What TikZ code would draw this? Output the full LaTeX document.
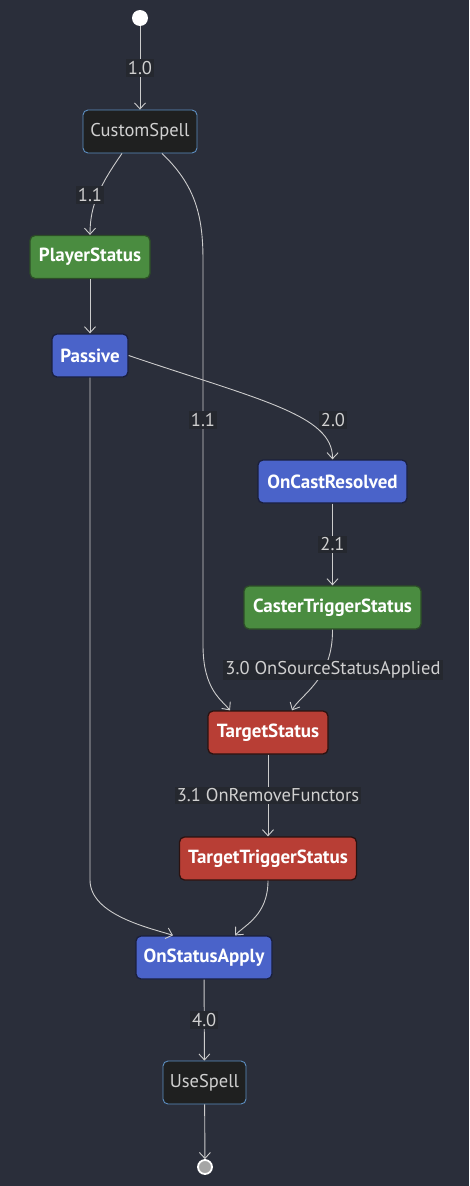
\documentclass[tikz,border=0pt]{standalone}
\usepackage{fontspec}
\setmainfont{PT Sans}
\usetikzlibrary{arrows.meta}
\definecolor{bg}{HTML}{2A2E3A}
\definecolor{edge}{HTML}{CCCCCC}
\definecolor{lblbg}{HTML}{25282F}
\definecolor{lbltxt}{HTML}{D0D0D0}
\definecolor{greenf}{HTML}{4A8C40}
\definecolor{greenb}{HTML}{2C4D27}
\definecolor{bluef}{HTML}{4A63C9}
\definecolor{blueb}{HTML}{1A1F3D}
\definecolor{redf}{HTML}{B83E35}
\definecolor{redb}{HTML}{2A1210}
\definecolor{darkf}{HTML}{1F2020}
\definecolor{darkb}{HTML}{5D8FC2}
\tikzset{
  base/.style={rectangle, rounded corners=5pt, line width=1.3pt, minimum height=43pt, inner sep=0pt, font=\fontsize{18.5}{22}\selectfont},
  plain/.style={base, fill=darkf, draw=darkb, line width=0.9pt, text=lbltxt},
  greenbox/.style={base, fill=greenf, draw=greenb, text=white, font=\fontsize{19}{22}\selectfont\bfseries},
  bluebox/.style={base, fill=bluef, draw=blueb, text=white, font=\fontsize{19}{22}\selectfont\bfseries},
  redbox/.style={base, fill=redf, draw=redb, text=white, font=\fontsize{19}{22}\selectfont\bfseries},
  conn/.style={draw=edge, line width=0.9pt, -{Straight Barb[length=6pt,width=11pt,line width=0.9pt]}},
  lbl/.style={fill=lblbg, text=lbltxt, inner xsep=2pt, inner ysep=2pt, font=\fontsize{18.5}{22}\selectfont},
}
\begin{document}
\begin{tikzpicture}[x=1pt,y=-1pt]
\useasboundingbox (0,0) rectangle (469,1186);
\fill[bg] (0,0) rectangle (469,1186);

\node[circle, fill=white, minimum size=16pt, inner sep=0pt] (start) at (140,18) {};
\node[plain, minimum width=114pt] (cs) at (140,131.5) {CustomSpell};
\node[greenbox, minimum width=120pt] (ps) at (90,257) {PlayerStatus};
\node[bluebox, minimum width=76pt] (pa) at (90,355.5) {Passive};
\node[bluebox, minimum width=149pt] (ocr) at (332.5,481.5) {OnCastResolved};
\node[greenbox, minimum width=177pt] (cts) at (332.5,607.5) {CasterTriggerStatus};
\node[redbox, minimum width=120pt] (ts) at (268,732.5) {TargetStatus};
\node[redbox, minimum width=177pt] (tts) at (268,858.5) {TargetTriggerStatus};
\node[bluebox, minimum width=136pt] (osa) at (204,957.5) {OnStatusApply};
\node[plain, minimum width=83pt] (us) at (204.5,1082.5) {UseSpell};
\node[circle, fill=lbltxt!80!black, draw=white, line width=1.8pt, minimum size=14pt, inner sep=0pt] (end) at (205,1167) {};

% edges
\draw[conn] (start) -- (cs) node[lbl, pos=0.5] (l10) {1.0};
\draw[conn] ([xshift=-18pt]cs.south) .. controls (100,185) and (90,205) .. (ps.north);
\node[lbl] (l11a) at (90,195) {1.1};
\draw[conn] ([xshift=22pt]cs.south) .. controls (195,185) and (203,215) .. (203,260) -- (203,645) .. controls (203,690) and (222,700) .. ([xshift=-38pt]ts.north);
\node[lbl] (l11b) at (203,420) {1.1};
\draw[conn] (ps) -- (pa);
\draw[conn] (pa.east) .. controls (260,400) and (333,415) .. (ocr.north);
\node[lbl] (l20) at (333,420) {2.0};
\draw[conn] (pa.south) -- (90,880) .. controls (90,915) and (150,928) .. ([xshift=-31pt]osa.north);
\draw[conn] (ocr) -- (cts) node[lbl, pos=0.5] (l21) {2.1};
\draw[conn] (cts.south) .. controls (333,680) and (300,695) .. ([xshift=24pt]ts.north);
\node[lbl] (l30) at (333,670) {3.0 OnSourceStatusApplied};
\draw[conn] (ts) -- (tts) node[lbl, pos=0.5] (l31) {3.1 OnRemoveFunctors};
\draw[conn] (tts.south) .. controls (268,915) and (245,925) .. ([xshift=31pt]osa.north);
\draw[conn] (osa) -- (us) node[lbl, pos=0.5] (l40) {4.0};
\draw[conn] (us) -- (end);
\end{tikzpicture}
\end{document}
